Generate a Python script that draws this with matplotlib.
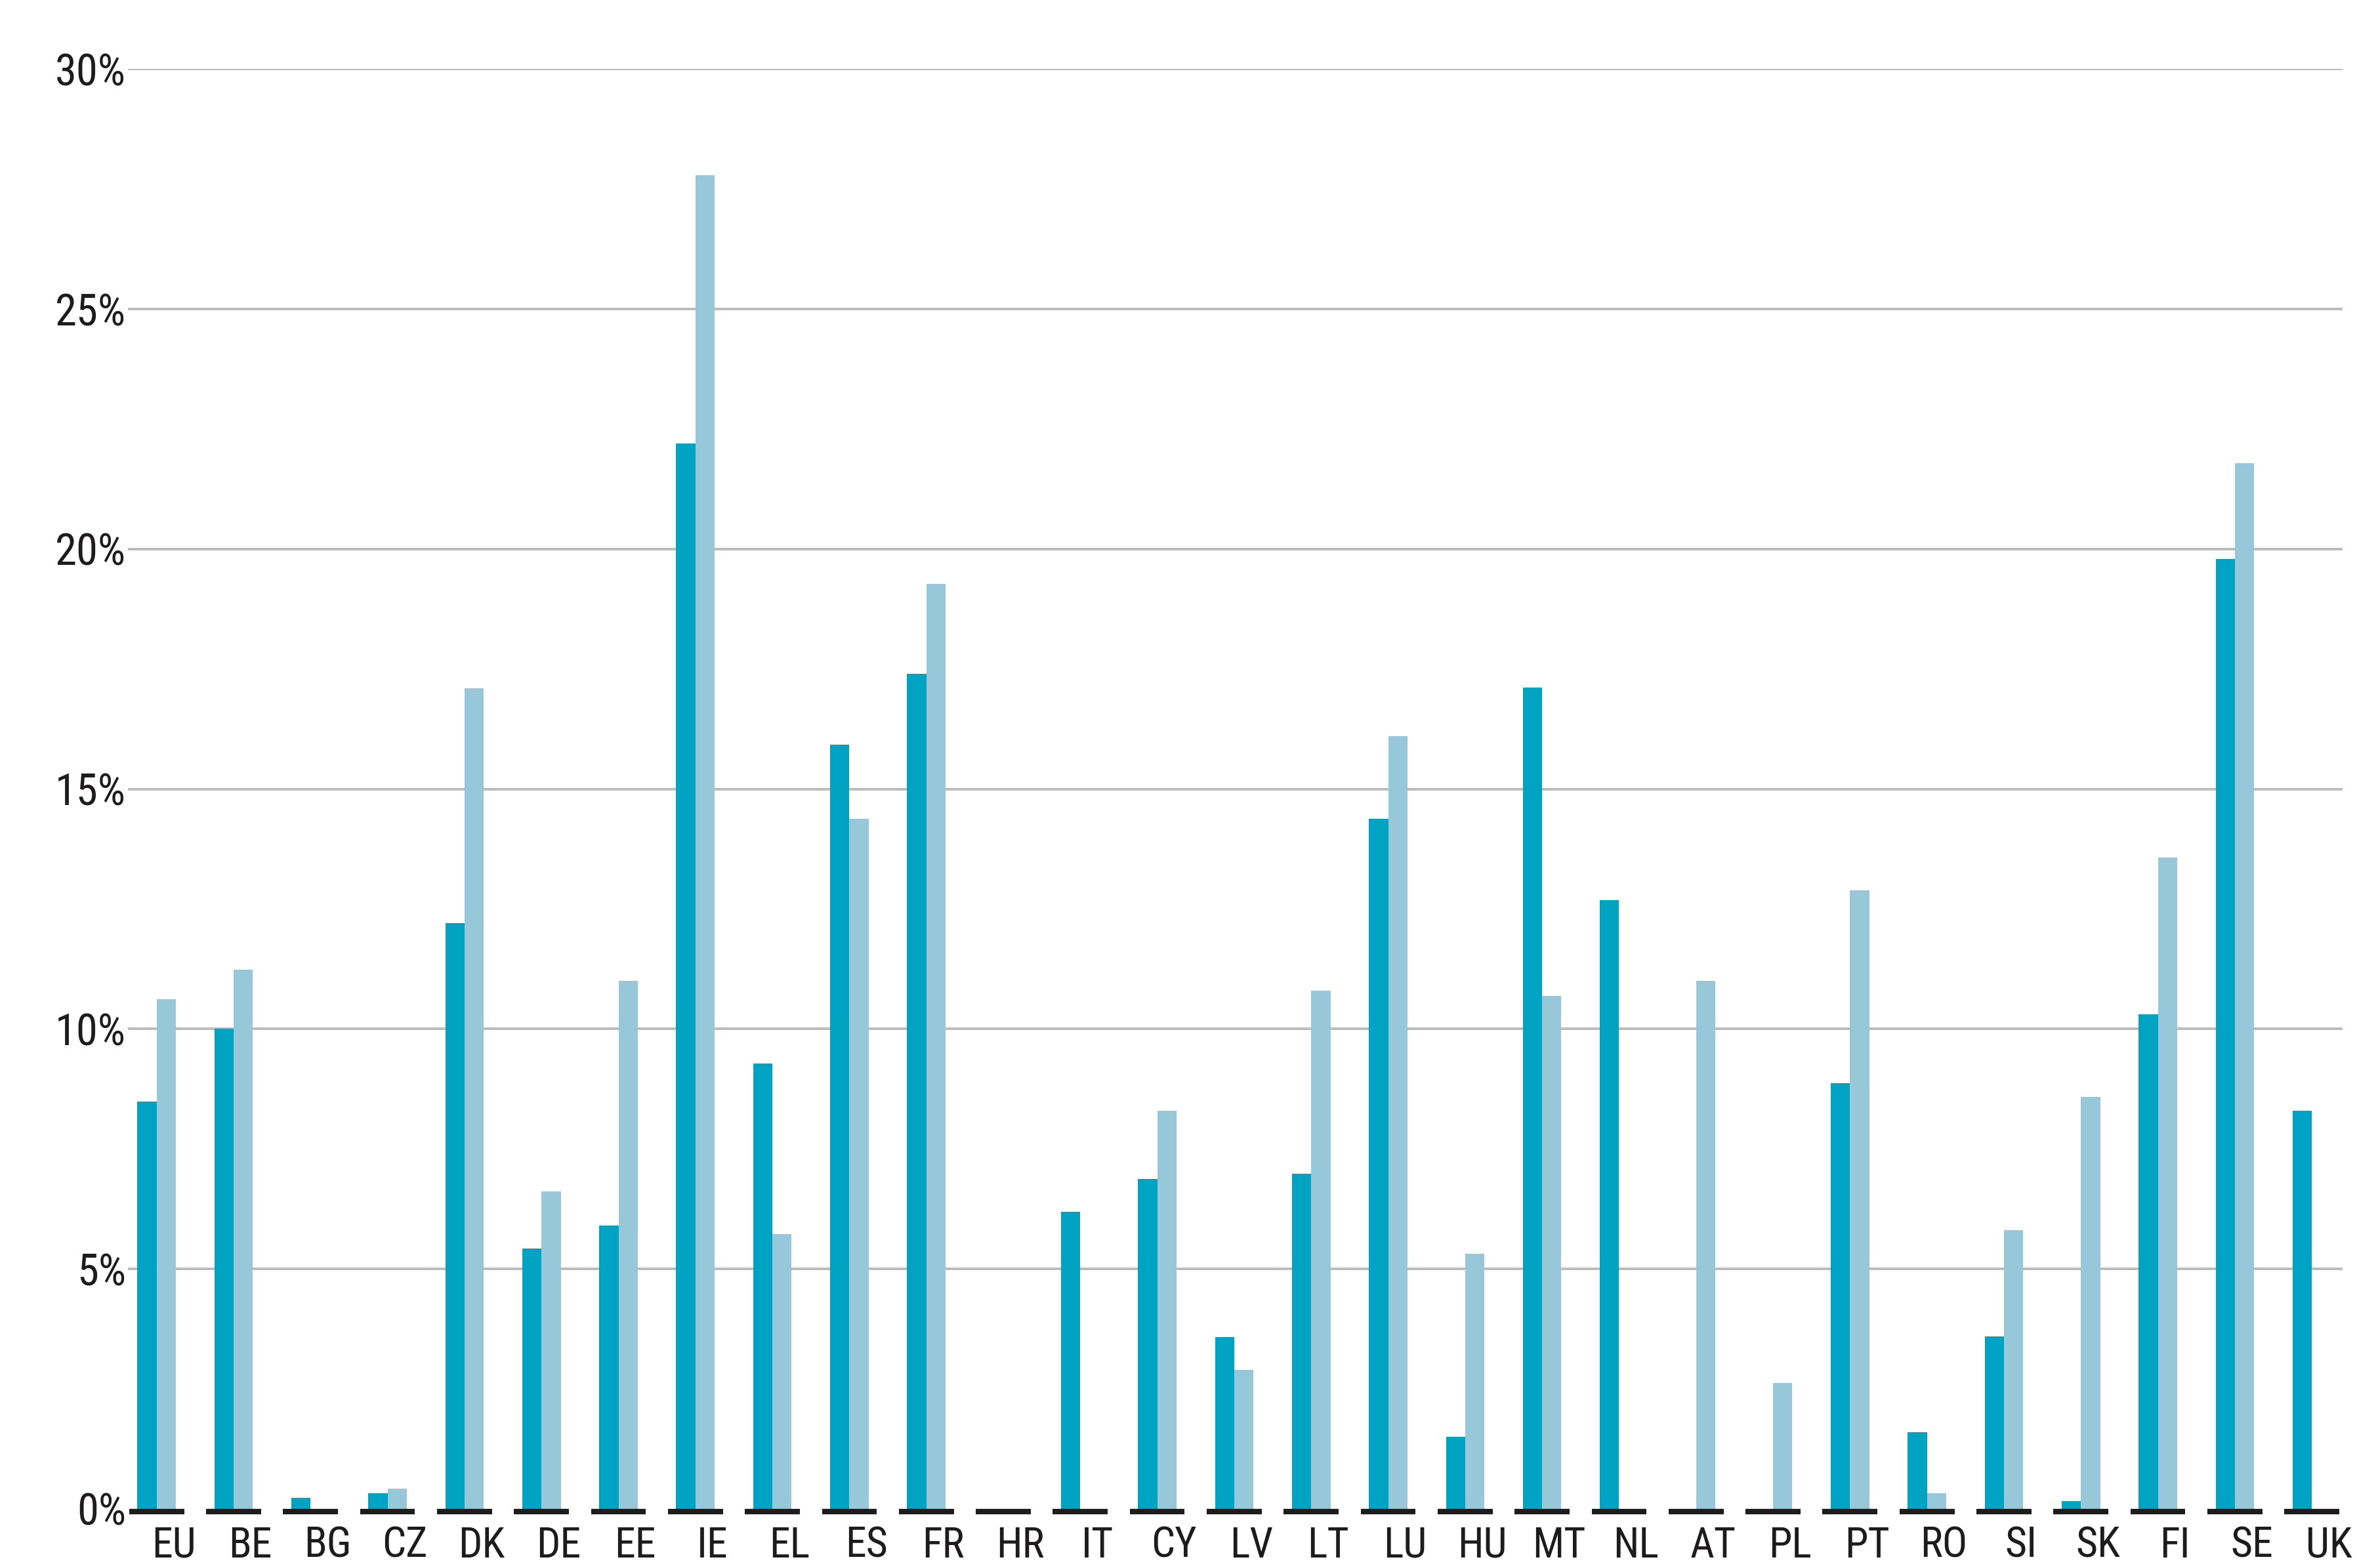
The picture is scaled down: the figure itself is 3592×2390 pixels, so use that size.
import matplotlib
matplotlib.use("Agg")
import matplotlib.pyplot as plt
import matplotlib.transforms as mtransforms
import numpy as np
from matplotlib import font_manager

countries = ["EU", "BE", "BG", "CZ", "DK", "DE", "EE", "IE", "EL", "ES", "FR", "HR",
             "IT", "CY", "LV", "LT", "LU", "HU", "MT", "NL", "AT", "PL", "PT", "RO",
             "SI", "SK", "FI", "SE", "UK"]
series_dark = [8.49, 10.0, 0.23, 0.32, 12.2, 5.43, 5.91, 22.2, 9.28, 15.92, 17.4, 0.0,
               6.19, 6.88, 3.58, 6.99, 14.38, 1.50, 17.11, 12.68, 0.0, 0.0, 8.87, 1.60,
               3.59, 0.16, 10.3, 19.79, 8.30]
series_light = [10.62, 11.23, 0.0, 0.42, 17.1, 6.62, 11.01, 27.79, 5.72, 14.38, 19.28, 0.0,
                0.0, 8.30, 2.89, 10.80, 16.10, 5.31, 10.69, 0.0, 11.0, 2.62, 12.89, 0.33,
                5.81, 8.59, 13.57, 21.79, 0.0]
yticks = [0, 5, 10, 15, 20, 25, 30]
ytick_labels = ["0%", "5%", "10%", "15%", "20%", "25%", "30%"]

installed = {f.name for f in font_manager.fontManager.ttflist}
cands = ["Liberation Sans Narrow", "DejaVu Sans Condensed", "Roboto Condensed",
         "Open Sans Condensed", "Liberation Sans", "DejaVu Sans"]
fam = [f for f in cands if f in installed]
plt.rcParams["font.family"] = fam
plt.rcParams["font.stretch"] = "condensed"

DARK = "#00A4C2"
LIGHT = "#96C8D9"
TEXT = "#1E1B1C"
GRID = "#BBBBBB"

fig = plt.figure(figsize=(17.96, 11.95), dpi=200)
ax = fig.add_axes([0.0543, 0.0377, 0.9396, 0.9182])

x = np.arange(len(countries))
w = 0.25
ax.bar(x - w / 2, series_dark, width=w, color=DARK, linewidth=0, zorder=2)
ax.bar(x + w / 2, series_light, width=w, color=LIGHT, linewidth=0, zorder=2)

seg_tr = mtransforms.offset_copy(ax.transData, fig=fig, y=-1.3, units="points")
ax.hlines(np.zeros(len(x)), x - 0.357, x + 0.357, colors=TEXT, linewidth=3.0,
          zorder=3, transform=seg_tr, clip_on=False)

ax.set_xlim(-0.372, len(countries) - 1 + 0.40)
ax.set_ylim(0, 30)
ax.set_yticks(yticks)
ax.set_yticklabels(ytick_labels, fontsize=24, color=TEXT)
ax.set_xticks(x + 0.22)
ax.set_xticklabels(countries, fontsize=23, color=TEXT)
ax.tick_params(axis="both", length=0)
ax.tick_params(axis="y", pad=1)
ax.tick_params(axis="x", pad=9)

ax.yaxis.grid(True, color=GRID, linewidth=1.4, zorder=0)
ax.set_axisbelow(True)
ax.get_ygridlines()[0].set_visible(False)
for s in ax.spines.values():
    s.set_visible(False)

fig.savefig("out.png", dpi=200, facecolor="white")
